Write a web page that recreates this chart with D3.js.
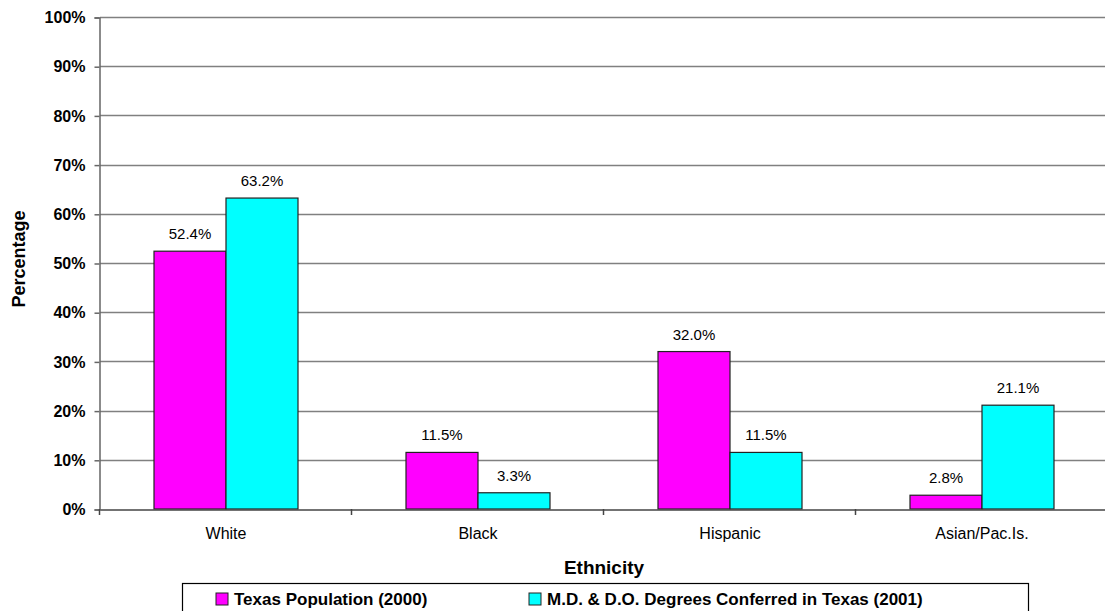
<!DOCTYPE html>
<html>
<head>
<meta charset="utf-8">
<script src="https://cdn.jsdelivr.net/npm/d3@7"></script>
<style>
  html, body { margin: 0; padding: 0; background: #fff; }
  svg { display: block; font-family: "Liberation Sans", Arial, sans-serif; }
</style>
</head>
<body>
<svg id="chart" width="1105" height="611"></svg>
<script>
// Ethnic makeup: Texas population vs. medical degrees conferred
const categories = ["White", "Black", "Hispanic", "Asian/Pac.Is."];
const seriesNames = ["Texas Population (2000)", "M.D. & D.O. Degrees Conferred in Texas (2001)"];
const population2000 = [52.4, 11.5, 32.0, 2.8];
const degrees2001 = [63.2, 3.3, 11.5, 21.1];
const yTicks = [0, 10, 20, 30, 40, 50, 60, 70, 80, 90, 100];
const seriesColors = ["#FF00FF", "#00FFFF"];

const seriesValues = [population2000, degrees2001];
const svg = d3.select("#chart");

const plotLeft = 100, plotRight = 1108, plotTop = 17, plotBottom = 509;

const x = d3.scaleBand()
  .domain(categories)
  .range([plotLeft, plotRight])
  .paddingInner(108 / 252)
  .paddingOuter(54 / 252);

const xInner = d3.scaleBand()
  .domain(d3.range(seriesNames.length))
  .range([0, x.bandwidth()]);

const y = d3.scaleLinear().domain([0, 100]).range([plotBottom, plotTop]);

// horizontal gridlines
svg.append("g")
  .selectAll("line")
  .data(yTicks.filter(t => t > 0))
  .join("line")
  .attr("x1", plotLeft).attr("x2", plotRight)
  .attr("y1", d => Math.round(y(d)) + 0.5)
  .attr("y2", d => Math.round(y(d)) + 0.5)
  .attr("stroke", "#808080")
  .attr("stroke-width", 1.5);

// y axis
const yAxis = d3.axisLeft(y)
  .tickValues(yTicks)
  .tickFormat(d => d + "%")
  .tickSize(5)
  .tickPadding(9);
const gy = svg.append("g")
  .attr("transform", `translate(${plotLeft - 0.5},0.5)`)
  .call(yAxis);
gy.select(".domain").attr("stroke", "#666").attr("stroke-width", 1.5);
gy.selectAll(".tick line").attr("stroke", "#666").attr("stroke-width", 1.5);
gy.selectAll(".tick text")
  .attr("fill", "#000")
  .style("font-size", "16px")
  .style("font-weight", "bold");

// bars
const groups = svg.append("g")
  .selectAll("g")
  .data(categories)
  .join("g")
  .attr("transform", d => `translate(${x(d)},0)`);

groups.selectAll("rect")
  .data((c, i) => seriesValues.map((vals, s) => ({ s, v: vals[i] })))
  .join("rect")
  .attr("x", d => xInner(d.s))
  .attr("y", d => y(d.v))
  .attr("width", xInner.bandwidth())
  .attr("height", d => plotBottom - y(d.v))
  .attr("fill", d => seriesColors[d.s])
  .attr("stroke", "#222")
  .attr("stroke-width", 1.2);

// value labels
groups.selectAll("text.val")
  .data((c, i) => seriesValues.map((vals, s) => ({ s, v: vals[i] })))
  .join("text")
  .attr("class", "val")
  .attr("x", d => xInner(d.s) + xInner.bandwidth() / 2)
  .attr("y", d => y(d.v) - 12)
  .attr("text-anchor", "middle")
  .style("font-size", "15px")
  .attr("fill", "#000")
  .text(d => d.v.toFixed(1) + "%");

// x axis baseline and category dividers
const xAxis = d3.axisBottom(x).tickSize(0).tickPadding(18);
const gx = svg.append("g")
  .attr("transform", `translate(0,${plotBottom + 0.5})`)
  .call(xAxis);
gx.select(".domain").attr("stroke", "#444").attr("stroke-width", 1.5);
gx.selectAll(".tick text")
  .attr("fill", "#000")
  .style("font-size", "16px");

svg.append("g")
  .selectAll("line")
  .data(d3.range(categories.length + 1))
  .join("line")
  .attr("x1", i => plotLeft + i * x.step() - 0.5)
  .attr("x2", i => plotLeft + i * x.step() - 0.5)
  .attr("y1", plotBottom)
  .attr("y2", plotBottom + 6)
  .attr("stroke", "#444")
  .attr("stroke-width", 1.5);

// axis titles
svg.append("text")
  .attr("x", (plotLeft + plotRight) / 2)
  .attr("y", 574)
  .attr("text-anchor", "middle")
  .style("font-size", "19px")
  .style("font-weight", "bold")
  .text("Ethnicity");

svg.append("text")
  .attr("transform", `translate(25,${(plotTop + plotBottom) / 2 - 4}) rotate(-90)`)
  .attr("text-anchor", "middle")
  .style("font-size", "18px")
  .style("font-weight", "bold")
  .text("Percentage");

// legend
const legend = svg.append("g");
legend.append("rect")
  .attr("x", 182.5).attr("y", 583.5)
  .attr("width", 846).attr("height", 40)
  .attr("fill", "#fff")
  .attr("stroke", "#000")
  .attr("stroke-width", 1.2);

const legendX = [216, 529];
const items = legend.selectAll("g")
  .data(seriesNames)
  .join("g")
  .attr("transform", (d, i) => `translate(${legendX[i]},0)`);
items.append("rect")
  .attr("x", 0).attr("y", 593)
  .attr("width", 12).attr("height", 12)
  .attr("fill", (d, i) => seriesColors[i])
  .attr("stroke", "#222")
  .attr("stroke-width", 1);
items.append("text")
  .attr("x", 18).attr("y", 605)
  .style("font-size", "17px")
  .style("font-weight", "bold")
  .text(d => d);
</script>
</body>
</html>
